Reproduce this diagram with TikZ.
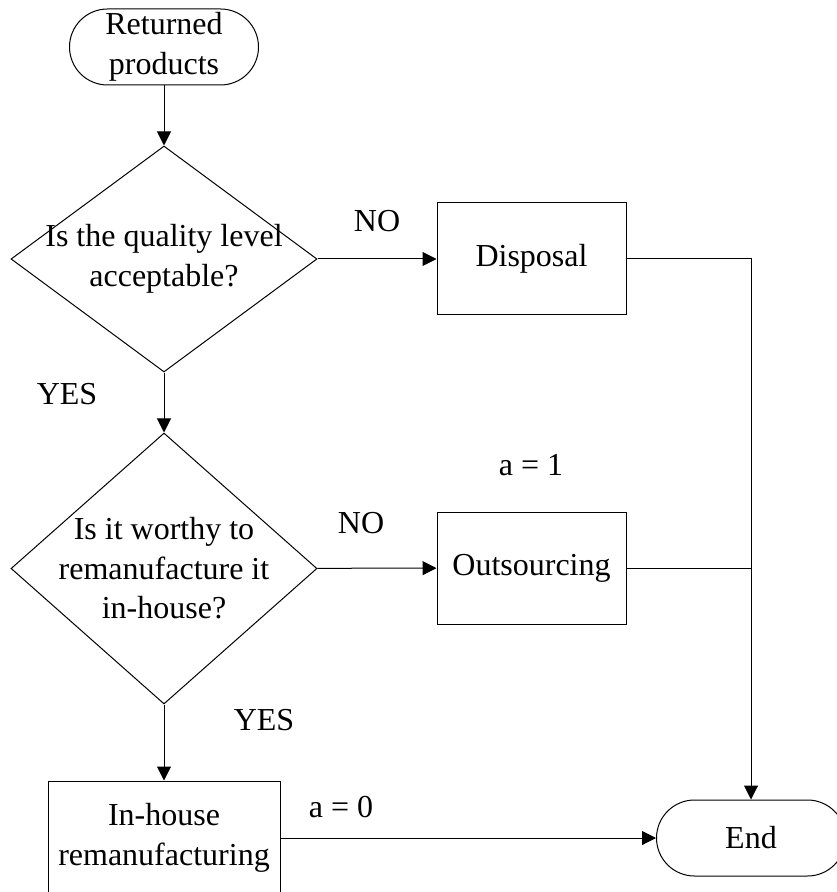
\documentclass[tikz,border=0pt]{standalone}
\usepackage{fontspec}
\setmainfont{Liberation Serif}
\usetikzlibrary{shapes.geometric,arrows.meta}

\begin{document}
\begin{tikzpicture}[x=0.5pt,y=-0.5pt,
  font=\fontsize{16}{19.7}\selectfont,
  line width=0.5pt,
  terminal/.style={draw,rectangle,rounded corners=19pt,minimum width=94.5pt,minimum height=38pt,inner sep=0pt,align=center},
  process/.style={draw,rectangle,minimum width=94.5pt,minimum height=56pt,inner sep=0pt,align=center},
  decision/.style={draw,diamond,inner sep=0pt,minimum width=153pt},
  flow/.style={-{Triangle[length=7pt,width=7pt]}}]
  \useasboundingbox (0,0) rectangle (836,892);
  % blocks
  \node[terminal] (start) at (164,47) {Returned\\products};
  \node[decision,minimum height=113pt] (quality) at (164,259) {};
  \node[align=center] (qualitytext) at (quality) {Is the quality level\\acceptable?};
  \node[process] (disposal) at (531.5,259) {Disposal};
  \node[decision,minimum height=135.5pt] (worthy) at (164,568.5) {};
  \node[align=center] (worthytext) at (worthy) {Is it worthy to\\remanufacture it\\in-house?};
  \node[process] (outsourcing) at (531.5,568) {Outsourcing};
  \node[process,minimum width=116pt,minimum height=57pt] (inhouse) at (164,838) {In-house\\remanufacturing};
  \node[terminal] (end) at (751,838) {End};
  % labels
  \node (no1) at (377,221) {NO};
  \node (yes1) at (67,394) {YES};
  \node (no2) at (361,523) {NO};
  \node (a1) at (531,465) {a = 1};
  \node (yes2) at (264,720) {YES};
  \node (a0) at (341,807) {a = 0};
  % connectors
  \draw[flow] (start) -- (quality);
  \draw[flow] (quality) -- (disposal);
  \draw[flow] (quality) -- (worthy);
  \draw[flow] (worthy) -- (outsourcing);
  \draw[flow] (worthy) -- (inhouse);
  \draw[flow] (inhouse) -- (end);
  \draw[flow] (disposal) -| (end);
  \draw (outsourcing) -- (end.north |- outsourcing.east);
\end{tikzpicture}
\end{document}
